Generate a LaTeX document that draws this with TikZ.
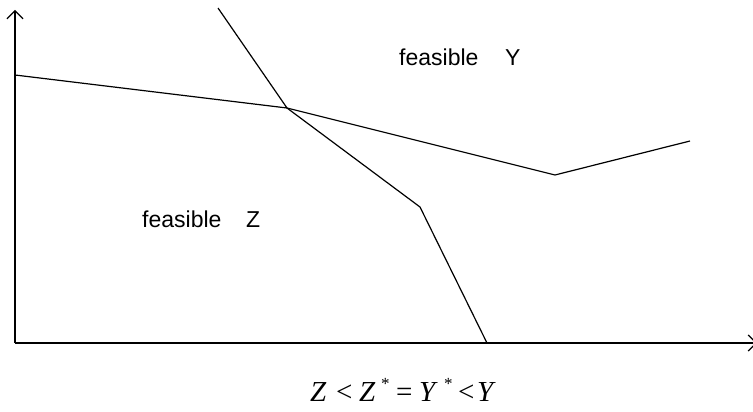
\documentclass[tikz,border=0pt]{standalone}
\usepackage{fontspec}
\setmainfont{Liberation Sans}
\newfontfamily\tnr{Liberation Serif}
\usetikzlibrary{arrows.meta}
\tikzset{
  ln/.style={line width=1.2pt, black},
  axis/.style={ln, -{Straight Barb[length=8pt,width=16pt,line width=1.2pt]}},
  lbl/.style={font=\fontsize{23}{26}\selectfont, inner sep=0pt, anchor=base west},
  eqs/.style={font=\tnr\fontsize{29}{32}\selectfont, inner sep=0pt, anchor=base west},
  star/.style={font=\tnr\fontsize{17}{19}\selectfont, inner sep=0pt, anchor=base west},
}
\begin{document}
\begin{tikzpicture}[x=1pt,y=-1pt]
\useasboundingbox (0,0) rectangle (753,412);
\coordinate (O) at (15,343);
\coordinate (ytop) at (15,10);
\coordinate (xend) at (757,343);
\draw[axis] (O) -- (ytop);
\draw[axis] (O) -- (xend);
\coordinate (Y0) at (15,75);
\coordinate (X) at (287,108);
\coordinate (Y2) at (555,175);
\coordinate (Y3) at (690,141);
\coordinate (Z0) at (218,8);
\coordinate (Z2) at (420,207);
\coordinate (Z3) at (487,343);
\draw[ln] (Y0) -- (X) -- (Y2) -- (Y3);
\draw[ln] (Z0) -- (X) -- (Z2) -- (Z3);
\node[lbl] (fy) at (399,66) {feasible};
\node[lbl] (fyY) at (505,66) {Y};
\node[lbl] (fz) at (142,227) {feasible};
\node[lbl] (fzZ) at (246,227) {Z};
\node[eqs] (e1) at (310,401) {\itshape Z};
\node[eqs] (e2) at (336,401) {<};
\node[eqs] (e3) at (359,401) {\itshape Z};
\node[star] (e4) at (381,389) {*};
\node[eqs] (e5) at (396,401) {=};
\node[eqs] (e6) at (419,401) {\itshape Y};
\node[star] (e7) at (444,389) {*};
\node[eqs] (e8) at (458,401) {<};
\node[eqs] (e9) at (477,401) {\itshape Y};
\end{tikzpicture}
\end{document}
